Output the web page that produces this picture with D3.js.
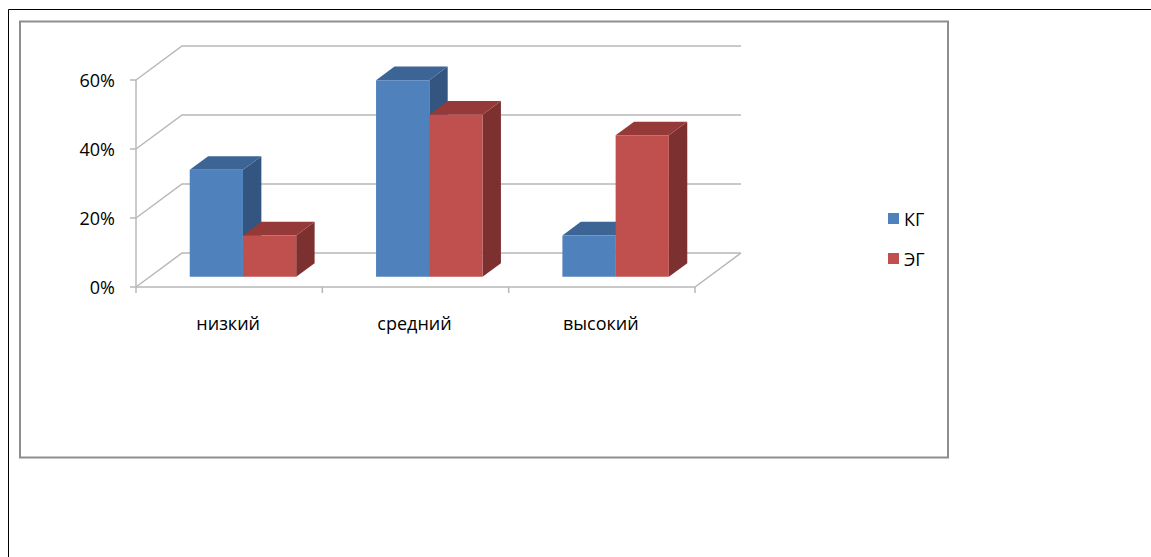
<!DOCTYPE html>
<html><head><meta charset="utf-8">
<script src="https://cdn.jsdelivr.net/npm/d3@7"></script>
<style>html,body{margin:0;padding:0;background:#fff;}svg{display:block;}</style>
</head><body>
<svg id="chart" width="1151" height="557"></svg>
<script>
const categories = ["низкий", "средний", "высокий"];
const seriesNames = ["КГ", "ЭГ"];
const valuesKG = [0.31, 0.57, 0.12];
const valuesEG = [0.12, 0.47, 0.41];
const yTicks = [0, 0.2, 0.4, 0.6];

const front = ["#4F81BD", "#C0504D"];
const topC = ["#3C6595", "#953A38"];
const sideC = ["#335580", "#7C3130"];

const svg = d3.select("#chart");
const W = 1151, H = 557;
const FONT = "'Open Sans', sans-serif";
const FS = 18;

// outer border
svg.append("path").attr("d", `M8.5,${H} V9.5 H${W}`).attr("fill", "none").attr("stroke", "#000").attr("stroke-width", 1);
// chart area
svg.append("rect").attr("x", 20).attr("y", 21.5).attr("width", 928).attr("height", 436)
  .attr("fill", "#fff").attr("stroke", "#8e8e8e").attr("stroke-width", 2);

const x0 = 136, x1 = 695;
const DX = 46, DY = 34;
const x = d3.scaleBand().domain(categories).range([x0, x1]).paddingInner(0).paddingOuter(0);
const y = d3.scaleLinear().domain([0, 0.6]).range([287, 80]);
const proj = (px, v, z) => [px + z * DX, y(v) - z * DY];

const grid = svg.append("g").attr("fill", "none").attr("stroke", "#b8b8b8").attr("stroke-width", 1.5);
yTicks.forEach(t => {
  const a = proj(x0, t, 0), b = proj(x0, t, 1), c = proj(x1, t, 1);
  grid.append("path").attr("d", `M${a}L${b}L${c}`);
});
{
  const a = proj(x0, 0, 0), b = proj(x1, 0, 0), c = proj(x1, 0, 1);
  grid.append("path").attr("d", `M${a}L${b}L${c}`);
  grid.append("path").attr("d", `M${proj(x0, 0.6, 0)}L${proj(x0, 0, 0)}`);
}
const yAxisG = svg.append("g");
yTicks.forEach(t => {
  yAxisG.append("line").attr("x1", x0 - 6).attr("x2", x0).attr("y1", y(t)).attr("y2", y(t))
    .attr("stroke", "#b8b8b8").attr("stroke-width", 1.5);
  yAxisG.append("text").attr("x", x0 - 21).attr("y", y(t) + 1).attr("dy", "0.35em")
    .attr("text-anchor", "end").attr("font-family", FONT).attr("font-size", FS)
    .attr("fill", "#000").text(d3.format(".0%")(t));
});
const xTickPos = categories.map(c => x(c)).concat([x1]);
xTickPos.forEach(px => {
  svg.append("line").attr("x1", px).attr("x2", px).attr("y1", y(0)).attr("y2", y(0) + 6)
    .attr("stroke", "#b8b8b8").attr("stroke-width", 1.5);
});
categories.forEach(c => {
  svg.append("text").attr("x", x(c) + x.bandwidth() / 2 - 1).attr("y", 324).attr("dy", "0.35em")
    .attr("text-anchor", "middle").attr("font-family", FONT).attr("font-size", FS)
    .attr("fill", "#000").text(c);
});

const bw = x.bandwidth() / 3.5;
const z0 = 0.3, z1 = 0.7;
const series = [valuesKG, valuesEG];
const bars = svg.append("g");
const poly = pts => "M" + pts.map(p => p.join(",")).join("L") + "Z";
categories.forEach((c, i) => {
  series.forEach((vals, s) => {
    const v = vals[i];
    const l = x(c) + 0.75 * bw + s * bw, r = l + bw;
    bars.append("path").attr("d", poly([proj(r, 0, z0), proj(r, 0, z1), proj(r, v, z1), proj(r, v, z0)])).attr("fill", sideC[s]);
    bars.append("path").attr("d", poly([proj(l, v, z0), proj(r, v, z0), proj(r, v, z1), proj(l, v, z1)])).attr("fill", topC[s]);
    bars.append("path").attr("d", poly([proj(l, 0, z0), proj(r, 0, z0), proj(r, v, z0), proj(l, v, z0)])).attr("fill", front[s]);
  });
});

const leg = svg.append("g");
seriesNames.forEach((n, i) => {
  const cy = 219 + i * 40;
  leg.append("rect").attr("x", 888).attr("y", cy - 6).attr("width", 11).attr("height", 11).attr("fill", front[i]);
  leg.append("text").attr("x", 904).attr("y", cy + 1).attr("dy", "0.35em")
    .attr("font-family", FONT).attr("font-size", FS).attr("fill", "#000").text(n);
});
</script>
</body></html>
